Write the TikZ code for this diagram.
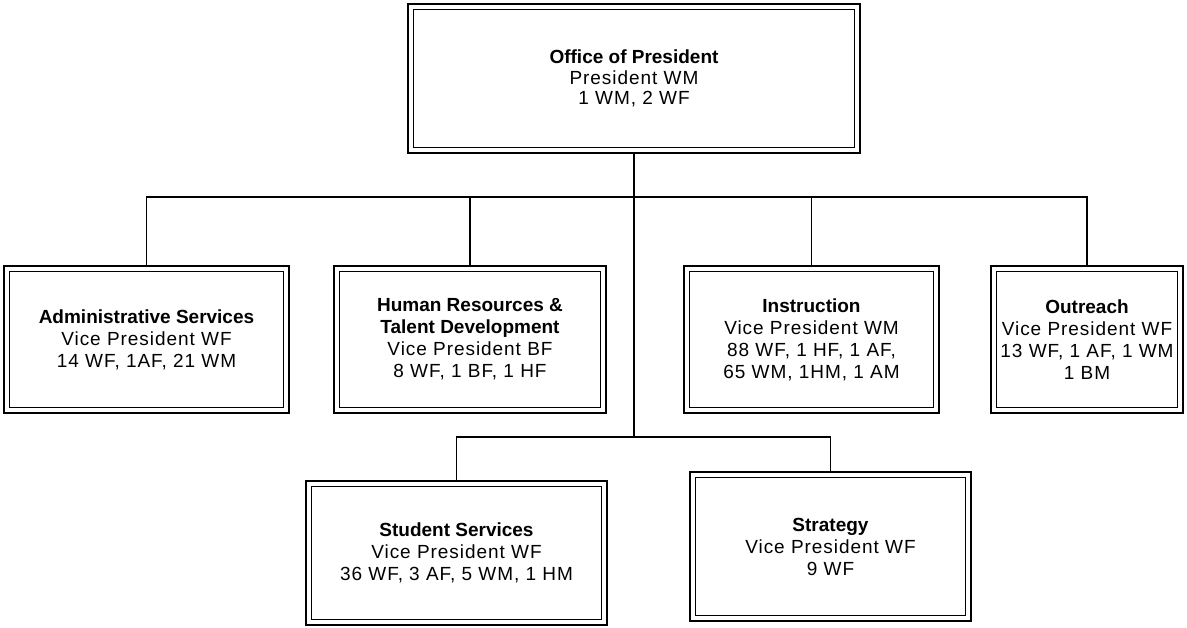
\documentclass[tikz,border=0pt]{standalone}
\usepackage{fontspec}
\setmainfont{Liberation Sans}
\newfontfamily\rolefont[LetterSpace=5,BoldFeatures={LetterSpace=0}]{Liberation Sans}
\usetikzlibrary{positioning}

\begin{document}
\begin{tikzpicture}[x=1pt,y=1pt,
    unit/.style={draw,double,double distance=4pt,line width=1.6pt,outer sep=3.6pt,
        inner sep=0pt,align=center,font=\rolefont\fontsize{19}{22}\selectfont},
    link/.style={line width=1.2pt}]
            \useasboundingbox (0,0) rectangle (1187,-628);

            \node[unit,minimum width=446.8pt,minimum height=143.8pt,
                font=\rolefont\fontsize{19}{20.5}\selectfont] (pres) at (634,-78.5)
                {\textbf{Office of President}\\President WM\\1 WM, 2 WF};
            \node[unit,minimum width=279.8pt,minimum height=141.8pt] (admin) [below left=111pt and 117pt of pres]
                {\textbf{Administrative Services}\\Vice President WF\\14 WF, 1AF, 21 WM};
            \node[unit,minimum width=266.8pt,minimum height=141.8pt] (hr) [right=43pt of admin]
                {\textbf{Human Resources \&}\\\textbf{Talent Development}\\Vice President BF\\8 WF, 1 BF, 1 HF};
            \node[unit,minimum width=249.8pt,minimum height=141.8pt] (instr) [right=76pt of hr]
                {\textbf{Instruction}\\Vice President WM\\88 WF, 1 HF, 1 AF,\\65 WM, 1HM, 1 AM};
            \node[unit,minimum width=186.8pt,minimum height=141.8pt] (outr) [right=50pt of instr]
                {\textbf{Outreach}\\Vice President WF\\13 WF, 1 AF, 1 WM\\1 BM};
            \node[unit,minimum width=295.8pt,minimum height=138.8pt] (stud) [below=66pt of hr,xshift=-13.5pt]
                {\textbf{Student Services}\\Vice President WF\\36 WF, 3 AF, 5 WM, 1 HM};
            \node[unit,minimum width=275.8pt,minimum height=143.8pt] (strat) [right=81pt of stud,yshift=6.5pt]
                {\textbf{Strategy}\\Vice President WF\\9 WF};

            \path (pres.south) ++(0,-43) coordinate (upbus);
            \draw[link](pres.south) -- ++(0,-283) coordinate (lowbus);
            \draw[link](admin.north) |- (upbus) -| (outr.north);
            \draw[link](hr.north) -- (hr.north |- upbus);
            \draw[link](instr.north) -- (instr.north |- upbus);
            \draw[link](stud.north) |- (lowbus) -| (strat.north);
        \end{tikzpicture}
\end{document}
